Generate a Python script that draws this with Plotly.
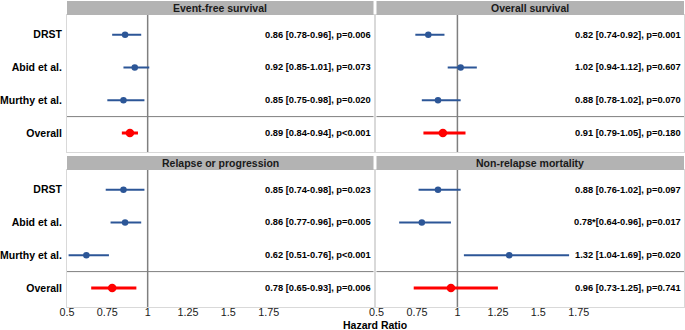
import plotly.graph_objects as go

# ---------------- data ----------------
studies = ["DRST", "Abid et al.", "Murthy et al.", "Overall"]
panel_titles = ["Event-free survival", "Overall survival",
                "Relapse or progression", "Non-relapse mortality"]

efs_hr = [0.86, 0.92, 0.85, 0.89]
efs_lo = [0.78, 0.85, 0.75, 0.84]
efs_hi = [0.96, 1.01, 0.98, 0.94]
efs_txt = ["0.86 [0.78-0.96], p=0.006", "0.92 [0.85-1.01], p=0.073",
           "0.85 [0.75-0.98], p=0.020", "0.89 [0.84-0.94], p<0.001"]

os_hr = [0.82, 1.02, 0.88, 0.91]
os_lo = [0.74, 0.94, 0.78, 0.79]
os_hi = [0.92, 1.12, 1.02, 1.05]
os_txt = ["0.82 [0.74-0.92], p=0.001", "1.02 [0.94-1.12], p=0.607",
          "0.88 [0.78-1.02], p=0.070", "0.91 [0.79-1.05], p=0.180"]

rel_hr = [0.85, 0.86, 0.62, 0.78]
rel_lo = [0.74, 0.77, 0.51, 0.65]
rel_hi = [0.98, 0.96, 0.76, 0.93]
rel_txt = ["0.85 [0.74-0.98], p=0.023", "0.86 [0.77-0.96], p=0.005",
           "0.62 [0.51-0.76], p<0.001", "0.78 [0.65-0.93], p=0.006"]

nrm_hr = [0.88, 0.78, 1.32, 0.96]
nrm_lo = [0.76, 0.64, 1.04, 0.73]
nrm_hi = [1.02, 0.96, 1.69, 1.25]
nrm_txt = ["0.88 [0.76-1.02], p=0.097", "0.78*[0.64-0.96], p=0.017",
           "1.32 [1.04-1.69], p=0.020", "0.96 [0.73-1.25], p=0.741"]

x_ticks = [0.5, 0.75, 1, 1.25, 1.5, 1.75]
x_tick_labels = ["0.5", "0.75", "1", "1.25", "1.5", "1.75"]

panels = [
    (efs_hr, efs_lo, efs_hi, efs_txt),
    (os_hr, os_lo, os_hi, os_txt),
    (rel_hr, rel_lo, rel_hi, rel_txt),
    (nrm_hr, nrm_lo, nrm_hi, nrm_txt),
]

# ---------------- layout geometry ----------------
W, H = 685, 330
ML, MR, MT, MB = 65, 0, 1, 23
PW = W - ML - MR
PH = H - MT - MB


def fx(px):
    return (px - ML) / PW


def fy(py):
    return (H - MB - py) / PH


x_domains = [[fx(65), fx(373)], [fx(376), fx(685)]]
plot_y = [[fy(152), fy(15)], [fy(307), fy(170)]]
strip_y = [[fy(15), fy(1)], [fy(170), fy(156)]]

BLUE = "#2C5697"
RED = "#FF0000"
STRIP = "#B3B3B3"
BORDER = "#D9D9D9"
REFLINE = "#7F7F7F"
FONT = "Liberation Sans, Arial, sans-serif"

fig = go.Figure()
layout = dict(
    width=W, height=H,
    margin=dict(l=ML, r=MR, t=MT, b=MB),
    paper_bgcolor="white", plot_bgcolor="white",
    showlegend=False,
    font=dict(family=FONT, color="#1A1A1A", size=10.5),
)
shapes = []
annotations = []

for i, (hr, lo, hi, txt) in enumerate(panels):
    r, c = divmod(i, 2)
    n = i + 1
    xa = "x" if n == 1 else f"x{n}"
    ya = "y" if n == 1 else f"y{n}"
    xk = "xaxis" if n == 1 else f"xaxis{n}"
    yk = "yaxis" if n == 1 else f"yaxis{n}"

    # study rows (blue) and overall (red)
    for idx_set, col, lw, ms in [([0, 1, 2], BLUE, 2, 6.5), ([3], RED, 3, 8.5)]:
        fig.add_trace(go.Scatter(
            x=[hr[k] for k in idx_set],
            y=[studies[k] for k in idx_set],
            mode="markers",
            marker=dict(color=col, size=ms),
            error_x=dict(type="data", symmetric=False,
                         array=[hi[k] - hr[k] for k in idx_set],
                         arrayminus=[hr[k] - lo[k] for k in idx_set],
                         color=col, thickness=lw, width=0),
            xaxis=xa, yaxis=ya, hoverinfo="skip", cliponaxis=False,
        ))

    layout[xk] = dict(
        domain=x_domains[c], range=[0.5, 2.4], anchor=ya,
        showgrid=False, zeroline=False,
        showline=True, mirror=True, linecolor=BORDER, linewidth=1,
        tickmode="array", tickvals=x_ticks, ticktext=x_tick_labels,
        showticklabels=(r == 1), ticks="",
        ticklabelstandoff=-5,
        tickfont=dict(size=10.8, color="#1A1A1A", family=FONT),
    )
    layout[yk] = dict(
        domain=plot_y[r], anchor=xa,
        type="category", categoryorder="array", categoryarray=studies,
        range=[3.58, -0.6],
        showgrid=False, zeroline=False,
        showline=True, mirror=True, linecolor=BORDER, linewidth=1,
        showticklabels=(c == 0), ticks="",
        ticklabelstandoff=2,
        tickfont=dict(size=10.5, color="#000000", family=FONT, weight="bold"),
    )

    xdom = f"{xa} domain"
    ydom = f"{ya} domain"
    # reference line at HR = 1
    shapes.append(dict(type="line", xref=xa, yref=ydom, x0=1, x1=1, y0=0, y1=1,
                       line=dict(color=REFLINE, width=1.5), layer="below"))
    # separator above "Overall"
    shapes.append(dict(type="line", xref=xdom, yref=ya, x0=0, x1=1, y0=2.5, y1=2.5,
                       line=dict(color=REFLINE, width=1), layer="below"))
    # strip
    shapes.append(dict(type="rect", xref="paper", yref="paper",
                       x0=x_domains[c][0], x1=x_domains[c][1],
                       y0=strip_y[r][0], y1=strip_y[r][1],
                       fillcolor=STRIP, line=dict(width=0)))
    annotations.append(dict(
        xref="paper", yref="paper",
        x=(x_domains[c][0] + x_domains[c][1]) / 2,
        y=(strip_y[r][0] + strip_y[r][1]) / 2,
        text=panel_titles[i], showarrow=False,
        font=dict(size=10.5, color="#1A1A1A", family=FONT, weight="bold"),
        xanchor="center", yanchor="middle",
    ))
    # estimate text
    for k, s in enumerate(studies):
        annotations.append(dict(
            xref=xdom, yref=ya, x=0.997, y=s, text=txt[k], showarrow=False,
            xanchor="right", yanchor="middle",
            font=dict(size=9.3, color="#000000", family=FONT, weight="bold"),
        ))

annotations.append(dict(
    xref="paper", yref="paper", x=fx(374.5), y=fy(325),
    text="Hazard Ratio", showarrow=False, xanchor="center", yanchor="middle",
    font=dict(size=10.5, color="#000000", family=FONT, weight="bold"),
))

layout["shapes"] = shapes
layout["annotations"] = annotations
fig.update_layout(**layout)
fig.write_html(
    "out.html",
    config={"displayModeBar": False},
    post_script="document.body.style.margin='0';document.body.style.padding='0';",
)
